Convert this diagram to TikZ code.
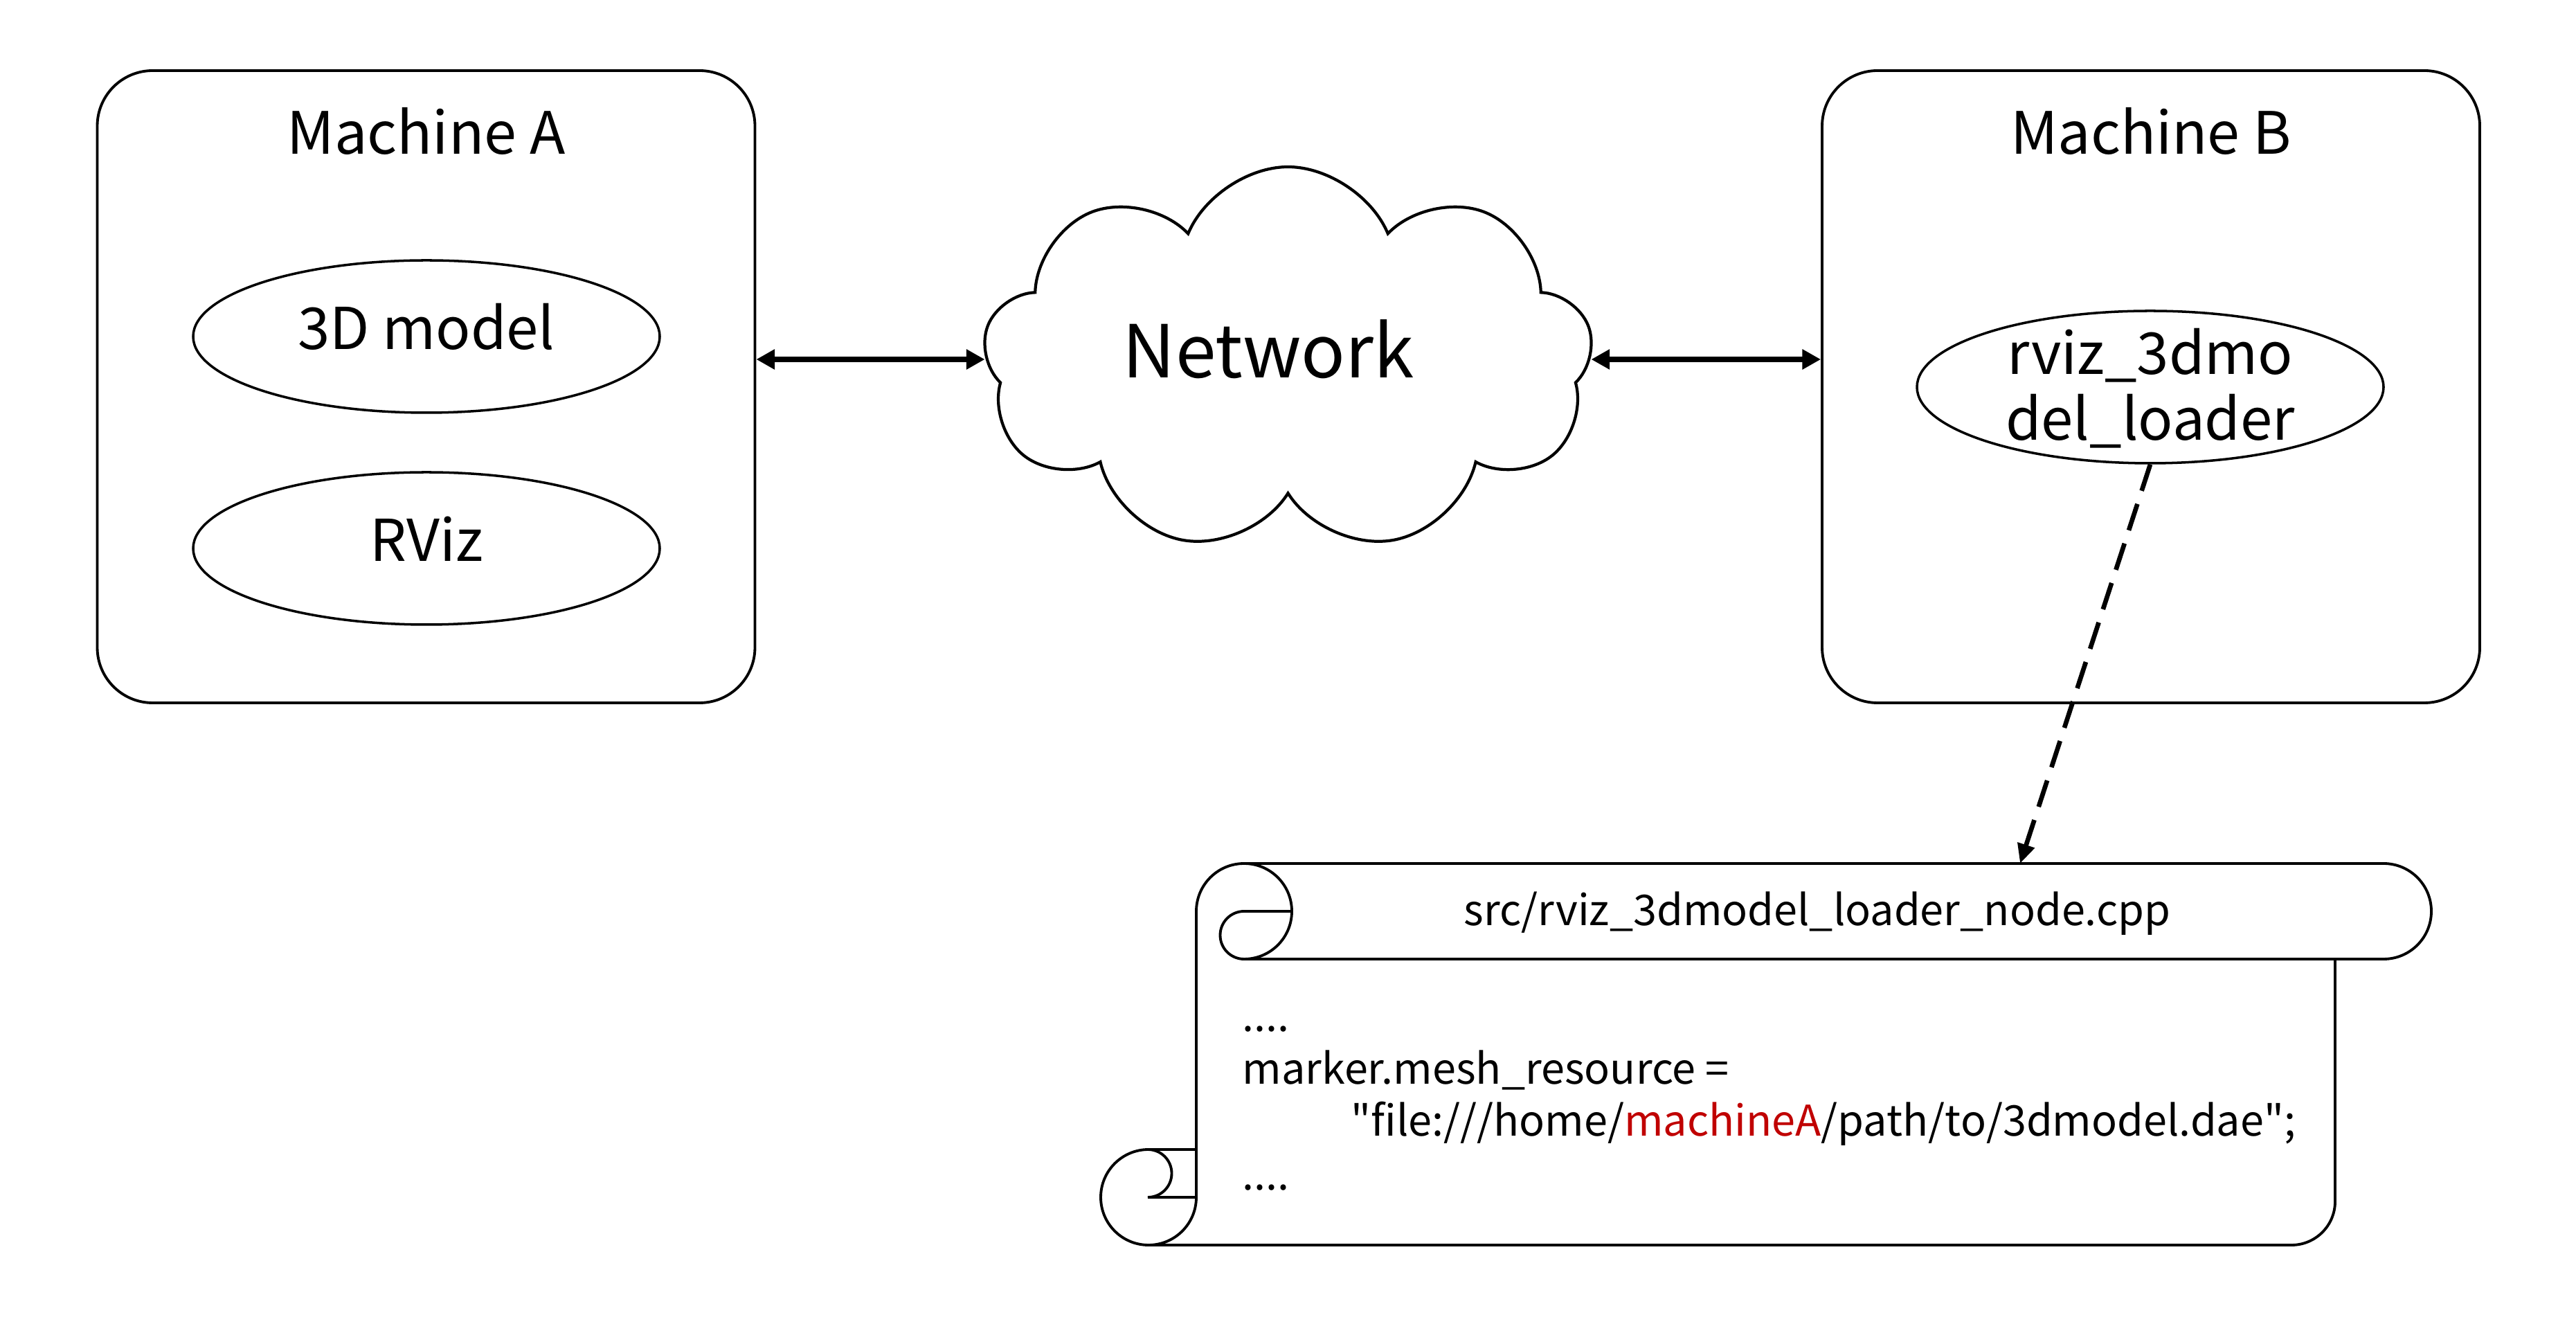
\documentclass[tikz,border=0pt]{standalone}
\usepackage{fontspec}
\setmainfont[Ligatures=TeXOff]{Noto Sans CJK KR}
\usetikzlibrary{shapes.geometric,shapes.symbols,arrows.meta}
\definecolor{pptred}{RGB}{192,0,0}

\begin{document}
\begin{tikzpicture}[
    machine/.style={draw, line width=1.1pt, rounded corners=0.8cm, minimum width=9.5cm, minimum height=9.13cm},
    proc/.style={draw, ellipse, line width=1pt, minimum width=6.74cm, minimum height=2.2cm, inner sep=0pt,
      text height=0.68cm, text depth=0.3cm, font=\fontsize{23.7}{26}\selectfont},
    big/.style={font=\fontsize{24}{26}\selectfont, inner sep=0pt},
    code/.style={font=\fontsize{17.4}{20}\selectfont, inner sep=0pt},
    link/.style={line width=2.1pt, {Triangle[length=7.6pt,width=7.9pt]}-{Triangle[length=7.6pt,width=7.9pt]}}
  ]
  \useasboundingbox (0,0) rectangle (37.21,19.11);

  \node[machine] (ma) at (6.155,13.525) {};
  \node[machine] (mb) at (31.07,13.525) {};
  \node[big, anchor=base] (ta) at (6.155,16.88) {Machine A};
  \node[big, anchor=base] (tb) at (31.07,16.88) {Machine B};

  \node[proc] (model) at (6.16,14.25) {3D model};
  \node[proc] (rviz) at (6.16,11.19) {RViz};
  \node[proc] (loader) at (31.06,13.52) {};
  \node[big, align=center, font=\fontsize{23.7}{27}\selectfont] (loadtxt) at (31.06,13.50) {rviz\_3dmo\\del\_loader};

  \node[cloud, draw, cloud puffs=9, cloud puff arc=135, aspect=1.58, minimum width=8.81cm, minimum height=5.56cm,
    inner sep=0pt, line width=1.2pt] (net) at (18.605,13.92) {};
  \node[big, anchor=base, font=\fontsize{30}{33}\selectfont] (nettxt) at (18.32,13.65) {Network};

  \draw[link] (ma.east |- net.west) -- (net.west);
  \draw[link] (net.east) -- (mb.west |- net.east);

  % scroll
  \begin{scope}[line width=1.1pt]
    \draw (17.97,6.64) -- (34.43,6.64) arc[start angle=90,end angle=-90,radius=0.69] -- (17.97,5.26);
    \draw (17.97,5.26) arc[start angle=-90,end angle=180,radius=0.69] -- (17.28,1.82)
      arc[start angle=0,end angle=-270,radius=0.69] -- (17.28,2.51);
    \draw (17.97,5.26) arc[start angle=-90,end angle=-270,radius=0.345] -- (18.66,5.95);
    \draw (16.58,2.51) arc[start angle=90,end angle=-90,radius=0.345] -- (17.28,1.82);
    \draw (16.58,1.13) -- (33.10,1.13) arc[start angle=-90,end angle=0,radius=0.63] -- (33.73,5.26);
  \end{scope}
  \coordinate (rolltip) at (29.18,6.64);

  \node[code, anchor=base] (file) at (26.25,5.74) {src/rviz\_3dmodel\_loader\_node.cpp};
  \node[code, anchor=base west] (l1) at (17.94,4.21) {....};
  \node[code, anchor=base west] (l2) at (17.94,3.45) {marker.mesh\_resource =};
  \node[code, anchor=base west] (l3) at (19.51,2.70) {"file:///home/\textcolor{pptred}{machineA}/path/to/3dmodel.dae";};
  \node[code, anchor=base west] (l4) at (17.94,1.92) {....};

  \draw[line width=1.9pt, dash pattern=on 0.4cm off 0.2cm, -{Triangle[length=8pt,width=7pt]}] (loader.south) -- (rolltip);
\end{tikzpicture}
\end{document}
